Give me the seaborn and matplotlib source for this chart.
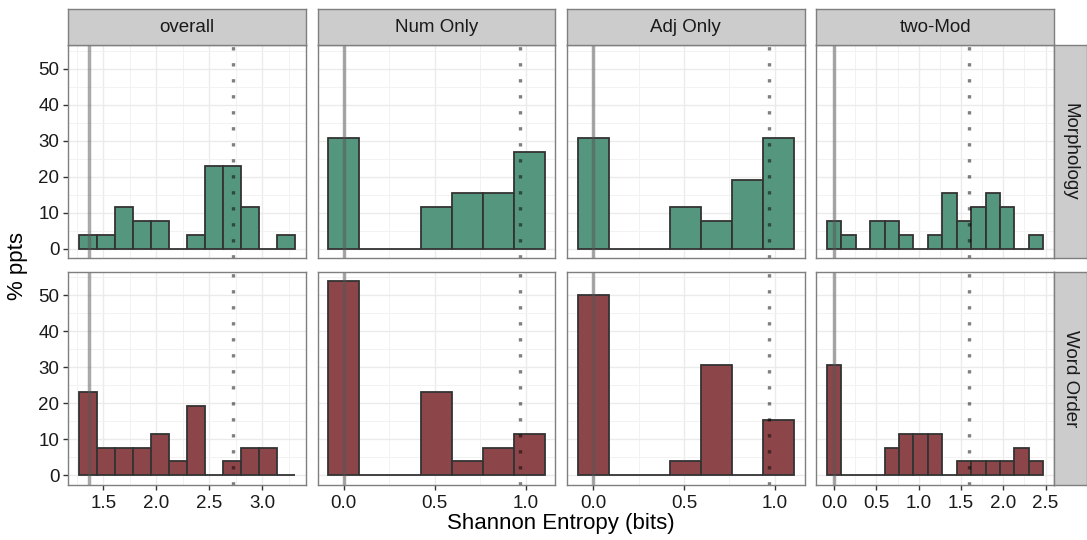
import numpy as np
import pandas as pd
import matplotlib
matplotlib.use("Agg")
import matplotlib.pyplot as plt
import seaborn as sns


# ========== DATA ========== #

CONDITIONS = ["overall", "Num Only", "Adj Only", "two-Mod"]
MEASURES = ["Morphology", "Word Order"]
N_PPTS = 26

# histogram bins: left edge of first bin, bin width, number of bins
BIN_START = [1.27, -0.085, -0.085, -0.085]
BIN_WIDTH = [0.17, 0.17, 0.17, 0.1705]
N_BINS = [12, 7, 7, 15]

# participant counts per bin
morph_overall = [1, 1, 3, 2, 2, 0, 1, 6, 6, 3, 0, 1]
morph_num = [8, 0, 0, 3, 4, 4, 7]
morph_adj = [8, 0, 0, 3, 2, 5, 8]
morph_two = [2, 1, 0, 2, 2, 1, 0, 1, 4, 2, 3, 4, 3, 0, 1]

order_overall = [6, 2, 2, 2, 3, 1, 5, 0, 1, 2, 2, 0]
order_num = [14, 0, 0, 6, 1, 2, 3]
order_adj = [13, 0, 0, 1, 8, 0, 4]
order_two = [8, 0, 0, 0, 2, 3, 3, 3, 0, 1, 1, 1, 1, 2, 1]

# reference lines (minimum / maximum entropy)
MIN_LINE = [1.36, 0.0, 0.0, 0.0]
MAX_LINE = [2.72, 0.97, 0.97, 1.60]

X_TICKS = [[1.5, 2.0, 2.5, 3.0], [0.0, 0.5, 1.0], [0.0, 0.5, 1.0],
           [0.0, 0.5, 1.0, 1.5, 2.0, 2.5]]
Y_TICKS = [0, 10, 20, 30, 40, 50]

COLORS = {"Morphology": "#55967E", "Word Order": "#8C4649"}

COUNTS = {
    "Morphology": [morph_overall, morph_num, morph_adj, morph_two],
    "Word Order": [order_overall, order_num, order_adj, order_two],
}


# ========== PLOT ========== #

W, H = 1087, 540
FONT = ["Liberation Sans", "DejaVu Sans"]

sns.set_theme(style="white")
plt.rcParams["font.family"] = FONT


def px_rect(x0, x1, y0, y1):
    """Pixel box -> figure fraction [left, bottom, width, height]."""
    return [x0 / W, 1 - y1 / H, (x1 - x0) / W, (y1 - y0) / H]


def add_strip(fig, rect, label, rotation=0):
    sax = fig.add_axes(rect)
    sax.set_facecolor("#CCCCCC")
    sax.set_xticks([])
    sax.set_yticks([])
    for sp in sax.spines.values():
        sp.set_color("#7F7F7F")
        sp.set_linewidth(1.0)
    sax.text(0.5, 0.5, label, ha="center", va="center", rotation=rotation,
             fontsize=13.5, color="#1A1A1A", transform=sax.transAxes)


fig = plt.figure(figsize=(W / 100, H / 100), dpi=100)

col_left = [68.3, 317.6, 566.9, 816.2]
col_w = 237.8
row_top = [45.3, 271.8]
row_h = 213.2

y_all_max = max(max(c) for lst in COUNTS.values() for c in lst) / N_PPTS * 100
y_lim = (-0.05 * y_all_max, 1.05 * y_all_max)

for r, measure in enumerate(MEASURES):
    for c, cond in enumerate(CONDITIONS):
        x0 = col_left[c]
        y0 = row_top[r]
        ax = fig.add_axes(px_rect(x0, x0 + col_w, y0, y0 + row_h))

        counts = COUNTS[measure][c]
        pct = np.array(counts, dtype=float) / N_PPTS * 100
        lo = BIN_START[c]
        hi = lo + BIN_WIDTH[c] * N_BINS[c]
        centers = lo + BIN_WIDTH[c] * (np.arange(N_BINS[c]) + 0.5)
        df = pd.DataFrame({"entropy": centers, "pct": pct})

        # grid
        span = hi - lo
        xt = X_TICKS[c]
        step = xt[1] - xt[0]
        minor_x = np.arange(xt[0] - step / 2, hi + 0.1 * span, step)
        ax.set_xticks(xt)
        ax.set_xticks(minor_x, minor=True)
        ax.set_yticks(Y_TICKS)
        ax.set_yticks(np.arange(5, 56, 10), minor=True)
        ax.grid(which="major", color="#EBEBEB", linewidth=1.0)
        ax.grid(which="minor", color="#F2F2F2", linewidth=0.7)
        ax.set_axisbelow(True)

        sns.histplot(data=df, x="entropy", weights="pct",
                     binwidth=BIN_WIDTH[c], binrange=(lo, hi),
                     color=COLORS[measure], alpha=1.0,
                     edgecolor="#333333", linewidth=1.3, ax=ax)

        ax.axvline(MIN_LINE[c], color="#555555", alpha=0.5, linewidth=2.5)
        ax.axvline(MAX_LINE[c], color="black", alpha=0.5, linewidth=2.4,
                   linestyle=(0, (1.0, 3.8)), dash_capstyle="butt")

        ax.set_xlim(lo - 0.05 * span, hi + 0.05 * span)
        ax.set_ylim(*y_lim)
        ax.set_xlabel("")
        ax.set_ylabel("")
        for sp in ax.spines.values():
            sp.set_color("#7F7F7F")
            sp.set_linewidth(1.0)

        ax.tick_params(which="minor", length=0)
        ax.tick_params(axis="both", which="major", length=3.5, width=1.0,
                       color="#333333", labelsize=13.5, labelcolor="#1A1A1A",
                       pad=3)
        if c == 0:
            ax.tick_params(axis="y", left=True, labelleft=True)
        else:
            ax.tick_params(axis="y", left=False, labelleft=False)
        if r == 1:
            ax.tick_params(axis="x", bottom=True, labelbottom=True, pad=4)
            ax.set_xticklabels([f"{v:.1f}" for v in xt])
        else:
            ax.tick_params(axis="x", bottom=False, labelbottom=False)

        if r == 0:
            add_strip(fig, px_rect(x0, x0 + col_w, 9.3, 45.3), cond)
    add_strip(fig, px_rect(1054.0, 1086.5, row_top[r], row_top[r] + row_h),
              measure, rotation=-90)

fig.text(561 / W, 1 - 524 / H, "Shannon Entropy (bits)", ha="center",
         va="center", fontsize=16, color="black")
fig.text(18 / W, 1 - 266 / H, "% ppts", ha="center", va="center",
         rotation=90, fontsize=16, color="black")

fig.savefig("out.png", dpi=100)
